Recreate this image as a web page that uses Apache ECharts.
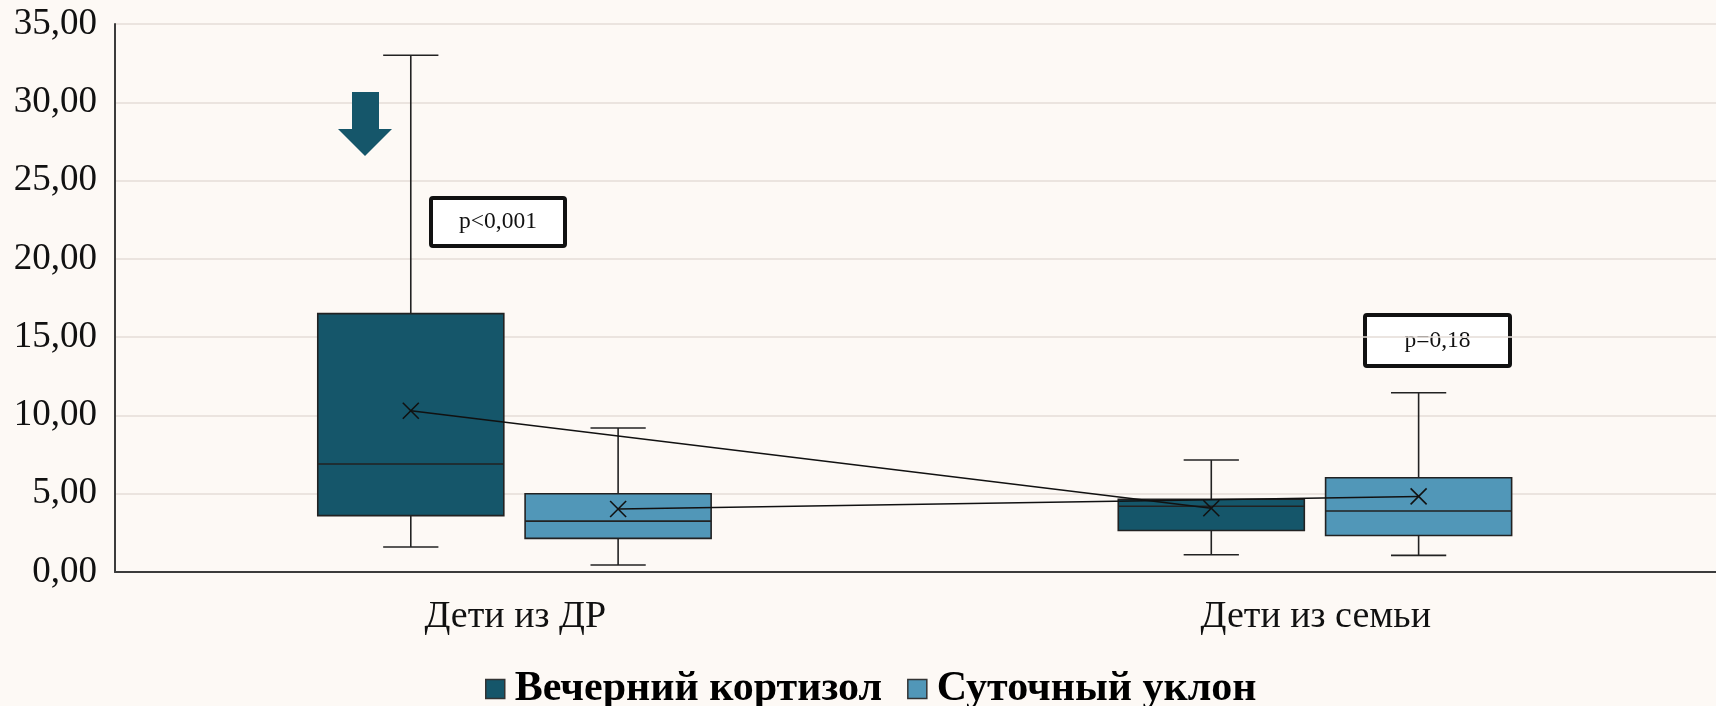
<!DOCTYPE html>
<html>
<head>
<meta charset="utf-8">
<title>Вечерний кортизол и суточный уклон</title>
<script src="https://cdn.jsdelivr.net/npm/echarts@6/dist/echarts.min.js"></script>
<style>
  html, body { margin: 0; padding: 0; background: #FDF9F5; }
  #chart { width: 1716px; height: 706px; }
</style>
</head>
<body>
<div id="chart"></div>
<script>
// Groups on the category axis
const categories = ['Дети из ДР', 'Дети из семьи'];
const seriesNames = ['Вечерний кортизол', 'Суточный уклон'];

// Box statistics per group: [min, Q1, median, Q3, max]
const eveningCortisolBoxes = [
  [1.6, 3.6, 6.9, 16.5, 33.0],
  [1.1, 2.65, 4.2, 4.65, 7.15]
];
const dailySlopeBoxes = [
  [0.45, 2.15, 3.25, 5.0, 9.2],
  [1.06, 2.33, 3.9, 6.02, 11.45]
];

// Mean values (cross markers joined by a line)
const eveningCortisolMeans = [10.3, 4.07];
const dailySlopeMeans = [4.02, 4.83];

// Y axis ticks
const yMin = 0, yMax = 35, yStep = 5;

// Significance labels
const pLabels = ['p<0,001', 'p=0,18'];

const FONT = '"Liberation Serif", "DejaVu Serif", serif';
const DARK = '#15566A';
const LIGHT = '#5197B8';
const EDGE = '#222222';

// Box layout inside a category band (fractions of band width)
const BOX_WIDTH = 0.2324;
const CAP_WIDTH = 0.069;
const SERIES_OFFSET = [-0.1305, 0.1285];

function boxRenderer(seriesIdx, fill) {
  return function (params, api) {
    const cat = api.value(0);
    const band = api.size([1, 0])[0];
    const cx = api.coord([cat, 0])[0] + SERIES_OFFSET[seriesIdx] * band;
    const half = band * BOX_WIDTH / 2;
    const capHalf = band * CAP_WIDTH / 2;
    const y = v => api.coord([cat, v])[1];
    const lo = y(api.value(1)), q1 = y(api.value(2)), med = y(api.value(3)),
          q3 = y(api.value(4)), hi = y(api.value(5));
    const line = { stroke: EDGE, lineWidth: 1.6 };
    return {
      type: 'group',
      children: [
        { type: 'line', shape: { x1: cx, y1: hi, x2: cx, y2: q3 }, style: line },
        { type: 'line', shape: { x1: cx - capHalf, y1: hi, x2: cx + capHalf, y2: hi }, style: line },
        { type: 'line', shape: { x1: cx, y1: q1, x2: cx, y2: lo }, style: line },
        { type: 'line', shape: { x1: cx - capHalf, y1: lo, x2: cx + capHalf, y2: lo }, style: line },
        { type: 'rect', shape: { x: cx - half, y: q3, width: half * 2, height: q1 - q3 },
          style: { fill: fill, stroke: EDGE, lineWidth: 1.6 } },
        { type: 'line', shape: { x1: cx - half, y1: med, x2: cx + half, y2: med }, style: line }
      ]
    };
  };
}

function meanRenderer(seriesIdx, means) {
  return function (params, api) {
    const i = params.dataIndex;
    const band = api.size([1, 0])[0];
    const off = SERIES_OFFSET[seriesIdx] * band;
    const p = api.coord([i, means[i]]);
    const x = p[0] + off, yv = p[1];
    const s = 8;
    const style = { stroke: '#111', lineWidth: 1.6 };
    const children = [
      { type: 'line', shape: { x1: x - s, y1: yv - s, x2: x + s, y2: yv + s }, style },
      { type: 'line', shape: { x1: x - s, y1: yv + s, x2: x + s, y2: yv - s }, style }
    ];
    if (i < means.length - 1) {
      const q = api.coord([i + 1, means[i + 1]]);
      children.push({ type: 'line', shape: { x1: x, y1: yv, x2: q[0] + off, y2: q[1] },
        style: { stroke: '#111', lineWidth: 1.5 } });
    }
    return { type: 'group', children };
  };
}

const boxData = boxes => boxes.map((b, i) => [i].concat(b));
const meanData = means => means.map((m, i) => [i, m]);

const chart = echarts.init(document.getElementById('chart'), null, { renderer: 'canvas' });

chart.setOption({
  backgroundColor: '#FDF9F5',
  animation: false,
  grid: { left: 115, right: 0, top: 24, bottom: 134, containLabel: false },
  legend: {
    data: seriesNames,
    left: 480,
    top: 663,
    icon: 'rect',
    itemWidth: 19,
    itemHeight: 19,
    itemGap: 25,
    itemStyle: { borderColor: '#333', borderWidth: 1.5 },
    textStyle: { fontFamily: FONT, fontWeight: 'bold', fontSize: 42, color: '#000', padding: [0, 0, 0, 5] }
  },
  xAxis: {
    type: 'category',
    data: categories,
    boundaryGap: true,
    axisLine: { show: true, lineStyle: { color: '#3c3c3c', width: 2 } },
    axisTick: { show: false },
    axisLabel: { fontFamily: FONT, fontSize: 38, color: '#111', margin: 26 },
    splitLine: { show: false }
  },
  yAxis: {
    type: 'value',
    min: yMin,
    max: yMax,
    interval: yStep,
    axisLine: { show: true, lineStyle: { color: '#3c3c3c', width: 2 } },
    axisTick: { show: false },
    axisLabel: {
      fontFamily: FONT, fontSize: 37, color: '#111', margin: 18,
      formatter: v => v.toFixed(2).replace('.', ',')
    },
    splitLine: { show: true, lineStyle: { color: '#E4DDD7', width: 1.5 } }
  },
  series: [
    {
      name: seriesNames[0], type: 'custom', z: 2,
      itemStyle: { color: DARK },
      encode: { x: 0, y: [1, 2, 3, 4, 5] },
      data: boxData(eveningCortisolBoxes),
      renderItem: boxRenderer(0, DARK)
    },
    {
      name: seriesNames[1], type: 'custom', z: 2,
      itemStyle: { color: LIGHT },
      encode: { x: 0, y: [1, 2, 3, 4, 5] },
      data: boxData(dailySlopeBoxes),
      renderItem: boxRenderer(1, LIGHT)
    },
    {
      name: 'mean-0', type: 'custom', z: 5,
      encode: { x: 0, y: 1 },
      data: meanData(eveningCortisolMeans),
      renderItem: meanRenderer(0, eveningCortisolMeans)
    },
    {
      name: 'mean-1', type: 'custom', z: 5,
      encode: { x: 0, y: 1 },
      data: meanData(dailySlopeMeans),
      renderItem: meanRenderer(1, dailySlopeMeans)
    }
  ],
  graphic: [
    // downward arrow above the first group
    {
      type: 'polygon', z: 10,
      shape: { points: [[352, 92], [379, 92], [379, 129], [392, 129], [365, 156], [338, 129], [352, 129]] },
      style: { fill: DARK }
    },
    // significance boxes
    {
      type: 'group', left: 429, top: 196, z: 10,
      children: [
        { type: 'rect', shape: { x: 2, y: 2, width: 134, height: 48, r: 2 },
          style: { fill: '#FFFFFF', stroke: '#111', lineWidth: 4 } },
        { type: 'text', x: 69, y: 26,
          style: { text: pLabels[0], fontFamily: FONT, fontSize: 23.5, fill: '#111', align: 'center', verticalAlign: 'middle' } }
      ]
    },
    {
      type: 'group', left: 1363, top: 313, z: 10,
      children: [
        { type: 'rect', shape: { x: 2, y: 2, width: 145, height: 51, r: 2 },
          style: { fill: '#FFFFFF', stroke: '#111', lineWidth: 4 } },
        { type: 'text', x: 74.5, y: 27.5,
          style: { text: pLabels[1], fontFamily: FONT, fontSize: 23.5, fill: '#111', align: 'center', verticalAlign: 'middle' } }
      ]
    }
  ]
});
</script>
</body>
</html>
